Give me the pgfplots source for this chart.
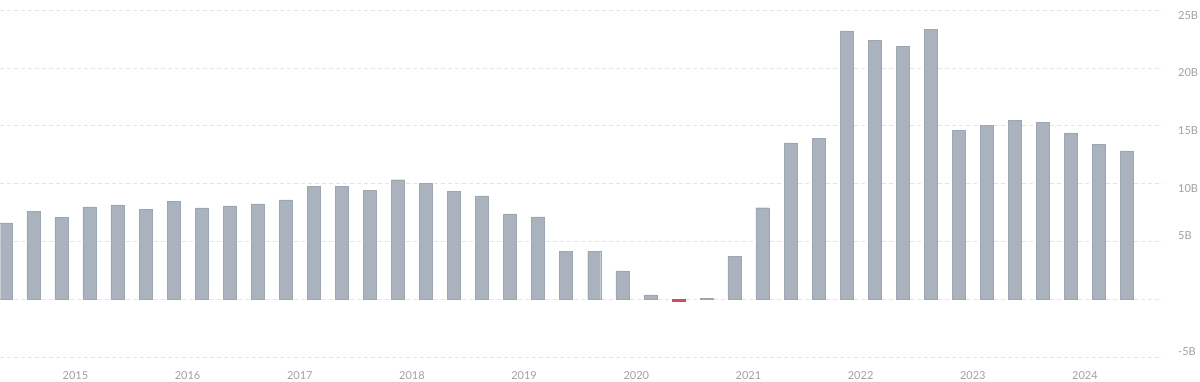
\documentclass[border=0pt]{standalone}
\usepackage{fontspec}
\setmainfont{Lato}
\usepackage{pgfplots}
\pgfplotsset{compat=1.18}
\definecolor{barc}{HTML}{A9B2BD}
\definecolor{barb}{HTML}{9DA7B2}
\definecolor{negc}{HTML}{C7515C}
\definecolor{txt}{HTML}{A0A0A0}
\definecolor{gridc}{HTML}{E4E4E4}
\begin{document}
\begin{tikzpicture}
\begin{axis}[
  at={(0,0)}, anchor=south west,
  scale only axis, width=1163pt, height=347pt,
  xmin=2014.8304, xmax=2025.1958, ymin=-5, ymax=25,
  axis line style={draw=none},
  major tick length=0pt,
  /pgf/number format/assume math mode=true,
  xtick={2015.5,2016.5,2017.5,2018.5,2019.5,2020.5,2021.5,2022.5,2023.5,2024.5},
  xticklabels={2015,2016,2017,2018,2019,2020,2021,2022,2023,2024},
  xticklabel style={font=\fontsize{11}{13}\selectfont, text=txt, anchor=base, yshift=-23pt, inner sep=0pt},
  ytick={0,10,15,20,25},
  yticklabels={,10B,15B,20B,25B},
  yticklabel pos=right,
  yticklabel style={font=\fontsize{11}{13}\selectfont, text=txt, anchor=north west, xshift=15pt, inner sep=0pt, yshift=-1pt},
  extra y ticks={-5,5},
  extra y tick labels={-5B,5B},
  extra y tick style={yticklabel style={anchor=south west, yshift=2pt}},
  ymajorgrids, 
  major grid style={gridc, dash pattern=on 4pt off 3pt, line width=0.6pt},
  clip=true,
]
\addplot[ybar, bar width=13pt, bar shift=0pt, fill=barc, draw=barb, line width=0.4pt] table {
x y
2014.875 6.6
2015.125 7.6
2015.375 7.04
2015.625 7.97
2015.875 8.15
2016.125 7.74
2016.375 8.46
2016.625 7.89
2016.875 8.06
2017.125 8.23
2017.375 8.58
2017.625 9.77
2017.875 9.77
2018.125 9.39
2018.375 10.32
2018.625 10.03
2018.875 9.33
2019.125 8.93
2019.375 7.37
2019.625 7.1
2019.875 4.11
2020.125 4.11
2020.375 2.43
2020.625 0.37
2020.875 0
2021.125 0.06
2021.375 3.71
2021.625 7.9
2021.875 13.5
2022.125 13.9
2022.375 23.19
2022.625 22.38
2022.875 21.83
2023.125 23.33
2023.375 14.61
2023.625 15.04
2023.875 15.48
2024.125 15.28
2024.375 14.38
2024.625 13.39
2024.875 12.81
};
\addplot[ybar, bar width=13pt, bar shift=0pt, fill=negc, draw=negc, line width=0.4pt] table {
x y
2020.875 -0.17
};
\end{axis}
\path[use as bounding box] (0,-25pt) rectangle (1200pt,357pt);
\end{tikzpicture}
\end{document}
